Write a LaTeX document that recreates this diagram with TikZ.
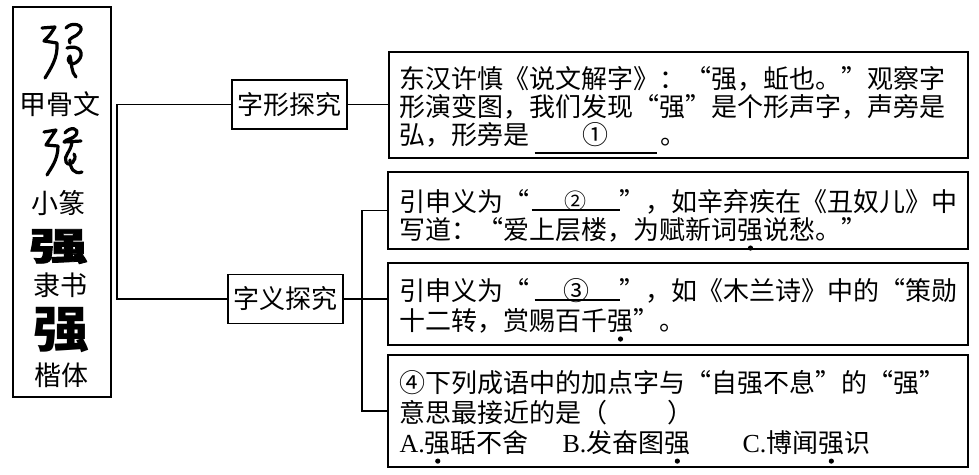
\documentclass[tikz,border=0pt]{standalone}
\usepackage{fontspec}
\usepackage{graphicx}
\setmainfont{Noto Sans CJK SC}
\newfontfamily\latinfont{Liberation Serif}
\newfontfamily\heavyfont{Noto Sans CJK SC}[BoldFeatures={FakeBold=2}]
\usetikzlibrary{positioning}

% underlined blank: width, rule raise, content
\newcommand\blank[3]{\makebox[#1]{#3}\llap{\rule[#2]{#1}{1.5pt}}}
% emphasis dot under a character
\newcommand\zdot[1]{\leavevmode\setbox0\hbox{#1}\rlap{\copy0}\hbox to\wd0{\hss\raisebox{-8.5pt}[0pt][0pt]{\tikz[baseline=0pt]\fill (0,0) circle (2.6pt);}\hss}}
\newcommand\firstline{\rule{0pt}{21.5pt}}

\tikzset{
  boxline/.style={draw, line width=1.4pt, inner sep=0pt},
  topic/.style={boxline, minimum width=115pt, minimum height=49pt, font=\fontsize{26}{30}\selectfont},
  para/.style={align=left, inner sep=0pt, anchor=north west, font=\fontsize{26}{#1}\selectfont},
  scriptname/.style={inner sep=0pt, font=\fontsize{27}{30}\selectfont},
  link/.style={line width=1.4pt},
  glyph/.style={line width=3.2pt, line cap=round, line join=round},
}

\begin{document}
\begin{tikzpicture}[x=1pt,y=-1pt]
\useasboundingbox (0,0) rectangle (979,474);

% evolution of the character
\node[boxline, minimum width=98pt, minimum height=390pt] (evo) at (62,202) {};
\draw[glyph] (42,28) -- (55,27) .. controls (50,35) .. (44,41) -- (57,43) .. controls (58,58) and (51,68) .. (45,78);
\draw[glyph] (66,28) .. controls (72,21) and (85,25) .. (80,32) .. controls (76,38) and (67,37) .. (70,43);
\draw[glyph] (67,48) .. controls (80,44) and (85,54) .. (78,61) .. controls (72,67) and (65,62) .. (70,56) .. controls (72,64) and (71,72) .. (76,77);
\node[scriptname] (jia) at (60,104) {甲骨文};
\draw[glyph] (44,132) -- (56,130) -- (46,145) -- (58,146) .. controls (58,160) and (51,168) .. (47,175);
\draw[glyph] (65,133) .. controls (70,126) and (80,128) .. (76,135) .. controls (73,139) and (66,139) .. (64,142) -- (81,141);
\draw[glyph] (72,142) .. controls (71,152) and (63,156) .. (66,162) .. controls (69,168) and (78,160) .. (74,154);
\draw[glyph] (70,160) .. controls (70,168) and (74,175) .. (82,172);
\node[scriptname] (xiao) at (58,203) {小篆};
\node[inner sep=0pt, font=\fontsize{40}{40}\selectfont\heavyfont\bfseries] (lichar) at (58.5,246.5) {\scalebox{1.45}[0.95]{强}};
\node[scriptname] (li) at (60,285) {隶书};
\node[inner sep=0pt, font=\fontsize{50}{50}\selectfont\bfseries] (kaichar) at (61.5,330) {\scalebox{1.12}[1]{强}};
\node[scriptname] (kai) at (61,375) {楷体};

% two topics
\node[topic] (xing) at (289.5,104.5) {字形探究};
\node[topic] (yi) at (285.5,299) {字义探究};

% text boxes
\node[boxline, minimum width=579pt, minimum height=106pt] (shuo) at (678.5,105) {};
\node[boxline, minimum width=580pt, minimum height=77pt] (chou) at (678,210.5) {};
\node[boxline, minimum width=580pt, minimum height=82pt] (mulan) at (678,304) {};
\node[boxline, minimum width=580pt, minimum height=112pt] (chengyu) at (678,411) {};

\node[para=28, below right=15pt and 11pt of shuo.north west] (shuotext) {\firstline 东汉许慎《说文解字》：“强，蚯也。”观察字\\形演变图，我们发现“强”是个形声字，声旁是\\弘，形旁是\hspace{5pt}\blank{122pt}{-9pt}{①}\hspace{4pt}。};
\node[para=28, below right=18pt and 12pt of chou.north west] (choutext) {\firstline 引申义为“\hspace{2pt}\blank{88pt}{1pt}{\raisebox{2pt}{\fontsize{22}{22}\selectfont ②}}”，如辛弃疾在《丑奴儿》中\\写道：“爱上层楼，为赋新词\zdot{强}说愁。”};
\node[para=30, below right=16pt and 12pt of mulan.north west] (mulantext) {\firstline 引申义为“\hspace{5pt}\blank{85pt}{0pt}{③}”，如《木兰诗》中的“策勋\\十二转，赏赐百千\zdot{强}”。};
\node[para=30, below right=16pt and 12pt of chengyu.north west] (chengyutext) {\firstline ④下列成语中的加点字与“自强不息”的“强”\\意思最接近的是（\hspace{60pt}）\\\makebox[163pt][l]{{\latinfont A.}\zdot{强}聒不舍}\makebox[180pt][l]{{\latinfont B.}发奋图\zdot{强}}{\latinfont C.}博闻\zdot{强}识};

% connectors
\coordinate (trunkL) at (117,0);
\coordinate (trunkR) at (362,0);
\draw[link] (xing.west) -- (xing.west -| trunkL) |- (yi.west);
\draw[link] (xing.east) -- (xing.east -| shuo.west);
\draw[link] (yi.east) -- (yi.east -| mulan.west);
\draw[link] (chou.west) -- (chou.west -| trunkR) |- (chengyu.west);
\end{tikzpicture}
\end{document}
